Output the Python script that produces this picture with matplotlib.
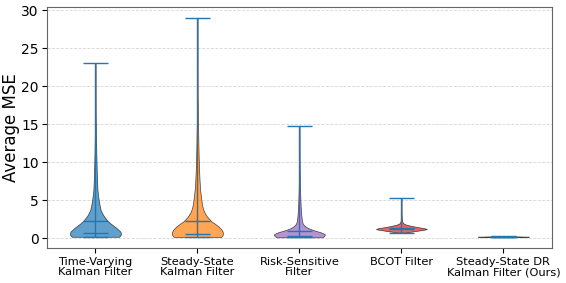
import numpy as np
import matplotlib
matplotlib.use("Agg")
import matplotlib.pyplot as plt

labels = ["Time-Varying\nKalman Filter", "Steady-State\nKalman Filter",
          "Risk-Sensitive\nFilter", "BCOT Filter",
          "Steady-State DR\nKalman Filter (Ours)"]
colors = ["#1f77b4", "#ff7f0e", "#9467bd", "#d62728", "#2ca02c"]

# density profiles (value, relative half-width)
tv_coords = [0.17, 0.4, 0.6, 0.85, 1.1, 1.35, 1.6, 1.9, 2.2, 2.55, 2.9, 3.3, 3.75,
             4.4, 5.0, 5.7, 6.4, 7.5, 9.0, 10.5, 12.0, 14.0, 16.0, 19.0, 23.0]
tv_vals = [0.93, 0.99, 1.0, 0.98, 0.9, 0.82, 0.72, 0.6, 0.5, 0.41, 0.33, 0.26, 0.2,
           0.16, 0.13, 0.1, 0.08, 0.065, 0.05, 0.04, 0.03, 0.02, 0.012, 0.006, 0.0]
tv_stats = dict(mean=2.2, median=0.7, min=0.17, max=23.0)

ss_coords = [0.15, 0.4, 0.6, 0.85, 1.1, 1.35, 1.6, 1.9, 2.2, 2.55, 2.9, 3.3, 3.75,
             4.4, 5.0, 5.7, 6.4, 7.5, 9.0, 10.5, 12.0, 14.0, 16.0, 19.0, 23.0, 29.0]
ss_vals = [0.93, 0.99, 1.0, 0.99, 0.95, 0.88, 0.8, 0.68, 0.55, 0.45, 0.36, 0.29, 0.23,
           0.18, 0.155, 0.13, 0.105, 0.085, 0.065, 0.05, 0.04, 0.03, 0.02, 0.01, 0.005, 0.0]
ss_stats = dict(mean=2.3, median=0.6, min=0.15, max=29.0)

rs_coords = [0.1, 0.3, 0.5, 0.65, 0.8, 0.95, 1.1, 1.3, 1.5, 1.7, 1.9, 2.3, 2.8, 3.4,
             4.1, 5.0, 6.0, 7.5, 9.0, 11.0, 13.0, 14.8]
rs_vals = [0.9, 0.98, 1.0, 0.92, 0.8, 0.64, 0.5, 0.35, 0.25, 0.18, 0.13, 0.1, 0.08,
           0.065, 0.05, 0.04, 0.03, 0.02, 0.014, 0.008, 0.004, 0.0]
rs_stats = dict(mean=0.97, median=0.3, min=0.1, max=14.8)

bc_coords = [0.72, 0.8, 0.9, 1.0, 1.1, 1.2, 1.3, 1.4, 1.5, 1.6, 1.7, 1.8, 1.95, 2.2,
             2.6, 3.2, 4.0, 5.3]
bc_vals = [0.15, 0.3, 0.5, 0.7, 0.9, 1.0, 0.9, 0.72, 0.55, 0.4, 0.27, 0.16, 0.07, 0.03,
           0.015, 0.008, 0.004, 0.0]
bc_stats = dict(mean=1.3, median=1.2, min=0.72, max=5.3)

dr_coords = [0.12, 0.15, 0.18, 0.21, 0.25]
dr_vals = [0.3, 0.8, 1.0, 0.7, 0.2]
dr_stats = dict(mean=0.18, median=0.18, min=0.12, max=0.25)

profiles = [(tv_coords, tv_vals, tv_stats), (ss_coords, ss_vals, ss_stats),
            (rs_coords, rs_vals, rs_stats), (bc_coords, bc_vals, bc_stats),
            (dr_coords, dr_vals, dr_stats)]

vpstats = []
for c, v, s in profiles:
    d = dict(coords=np.array(c), vals=np.array(v))
    d.update(s)
    vpstats.append(d)

fig = plt.figure(figsize=(5.66, 2.83), dpi=100)
ax = fig.add_axes([0.083, 0.1226, 0.892, 0.854])
positions = np.arange(1, len(labels) + 1)
parts = ax.violin(vpstats, positions=positions, widths=0.5,
                  showmeans=True, showextrema=True, showmedians=True)
for body, col in zip(parts['bodies'], colors):
    body.set_facecolor(col)
    body.set_edgecolor('black')
    body.set_alpha(0.7)
    body.set_linewidth(0.5)
for key in ['cmeans', 'cmins', 'cmaxes', 'cbars', 'cmedians']:
    parts[key].set_color('#1f77b4')
    parts[key].set_linewidth(1.0)

ax.set_xticks(positions)
ax.set_xticklabels(labels, fontsize=8.2, linespacing=1.1)
ax.tick_params(axis='x', pad=2.5)
ax.tick_params(axis='y', labelsize=10, pad=2.5)
ax.set_ylabel("Average MSE", fontsize=12, labelpad=1)
ax.yaxis.grid(True, linestyle='--', color='#cccccc', linewidth=0.6, alpha=0.8)
ax.set_axisbelow(True)
for sp in ax.spines.values():
    sp.set_color('#666666')
fig.savefig("out.png", dpi=100)
